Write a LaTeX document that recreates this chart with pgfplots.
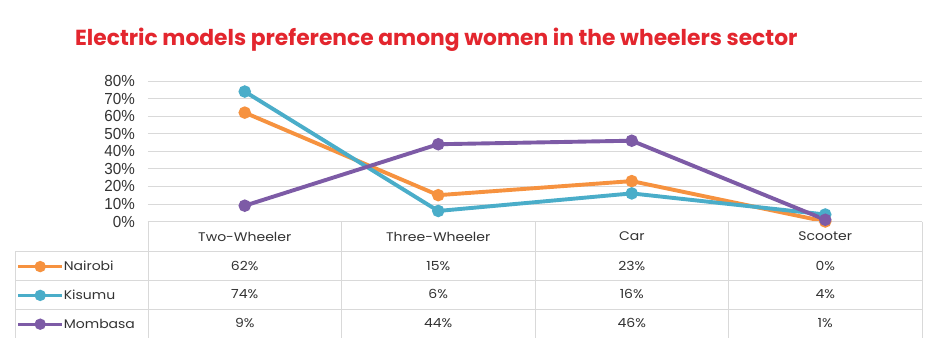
\documentclass[border=0pt]{standalone}
\usepackage{fontspec}
\setmainfont{Poppins}
\newfontfamily\titlefont{Poppins}[UprightFont=* Bold]
\newfontfamily\tblfont{Poppins}[FakeStretch=1.12]
\newfontfamily\tickfont{Liberation Sans}[FakeStretch=0.95]
\usepackage{pgfplots}
\pgfplotsset{compat=1.18}
\definecolor{cNai}{HTML}{F6923F}
\definecolor{cKis}{HTML}{4AADC9}
\definecolor{cMom}{HTML}{7D5BA6}
\definecolor{cTitle}{HTML}{E3262E}
\definecolor{cGrid}{HTML}{D9D9D9}
\definecolor{cText}{HTML}{333333}
\tikzset{tbl/.style={font=\tblfont\fontsize{12.5}{13}\selectfont, text=cText}, tline/.style={cGrid, line width=0.9pt}}
\begin{document}
\begin{tikzpicture}
\fill[white] (-244.75pt,221.5pt) rectangle (699.25pt,-116.5pt);
\begin{axis}[
  anchor=origin,
  scale only axis, width=774pt, height=140.5pt,
  xmin=-0.5, xmax=3.5, ymin=0, ymax=80,
  clip=false,
  axis line style={draw=none},
  xtick=\empty,
  ytick={0,10,...,80},
  yticklabel={\pgfmathprintnumber{\tick}\%},
  yticklabel style={font=\tickfont\fontsize{16}{17}\selectfont, text=cText, inner sep=0pt, xshift=-13pt},
  /pgf/number format/assume math mode=true,
  major tick length=0pt,
  ymajorgrids, grid style={cGrid, line width=0.8pt},
  every axis plot/.append style={line width=3.9pt, mark=*, mark size=4.2pt, mark options={solid}},
  legend style={draw=none, fill=none, at={(-0.17,-0.217)}, anchor=north west, inner sep=0pt, row sep=0pt,
    nodes={inner sep=0pt, minimum height=28.8pt, anchor=west, text=cText, font=\tblfont\fontsize{12.5}{13}\selectfont}},
  legend cell align=left,
  legend image code/.code={\draw[#1, mark repeat=2, mark phase=2, line width=3.2pt, mark size=4pt] plot coordinates {(0pt,0pt)(22pt,0pt)(44pt,0pt)};},
]
\addplot[cNai] coordinates {(0,62) (1,15) (2,23) (3,0)};
\addlegendentry{Nairobi}
\addplot[cKis] coordinates {(0,74) (1,6) (2,16) (3,4)};
\addlegendentry{Kisumu}
\addplot[cMom] coordinates {(0,9) (1,44) (2,46) (3,1)};
\addlegendentry{Mombasa}
% table grid
\draw[tline] (axis cs:-0.5,0) -- (axis cs:3.5,0);
\draw[tline] (axis cs:-1.187,-17.1) -- (axis cs:3.5,-17.1);
\draw[tline] (axis cs:-1.187,-33.3) -- (axis cs:3.5,-33.3);
\draw[tline] (axis cs:-1.187,-49.8) -- (axis cs:3.5,-49.8);
\draw[tline] (axis cs:-0.5,0) -- (axis cs:-0.5,-66.3);
\draw[tline] (axis cs:0.5,0) -- (axis cs:0.5,-66.3);
\draw[tline] (axis cs:1.5,0) -- (axis cs:1.5,-66.3);
\draw[tline] (axis cs:2.5,0) -- (axis cs:2.5,-66.3);
\draw[tline] (axis cs:3.5,0) -- (axis cs:3.5,-66.3);
\draw[tline] (axis cs:-1.187,-17.1) -- (axis cs:-1.187,-66.3);
% table text
\node[tbl] at (axis cs:0,-8.6) {Two-Wheeler};
\node[tbl] at (axis cs:1,-8.6) {Three-Wheeler};
\node[tbl] at (axis cs:2,-8.6) {Car};
\node[tbl] at (axis cs:3,-8.6) {Scooter};
\node[tbl] at (axis cs:0,-25.3) {62\%};
\node[tbl] at (axis cs:1,-25.3) {15\%};
\node[tbl] at (axis cs:2,-25.3) {23\%};
\node[tbl] at (axis cs:3,-25.3) {0\%};
\node[tbl] at (axis cs:0,-41.4) {74\%};
\node[tbl] at (axis cs:1,-41.4) {6\%};
\node[tbl] at (axis cs:2,-41.4) {16\%};
\node[tbl] at (axis cs:3,-41.4) {4\%};
\node[tbl] at (axis cs:0,-57.9) {9\%};
\node[tbl] at (axis cs:1,-57.9) {44\%};
\node[tbl] at (axis cs:2,-57.9) {46\%};
\node[tbl] at (axis cs:3,-57.9) {1\%};
\end{axis}
\node[anchor=base west, inner sep=0, text=cTitle, font=\titlefont\fontsize{21.8}{24}\selectfont] at (-169.75pt,176.5pt) {Electric models preference among women in the wheelers sector};
\pgfresetboundingbox
\path[use as bounding box] (-244.75pt,221.5pt) rectangle (699.25pt,-116.5pt);
\end{tikzpicture}
\end{document}
